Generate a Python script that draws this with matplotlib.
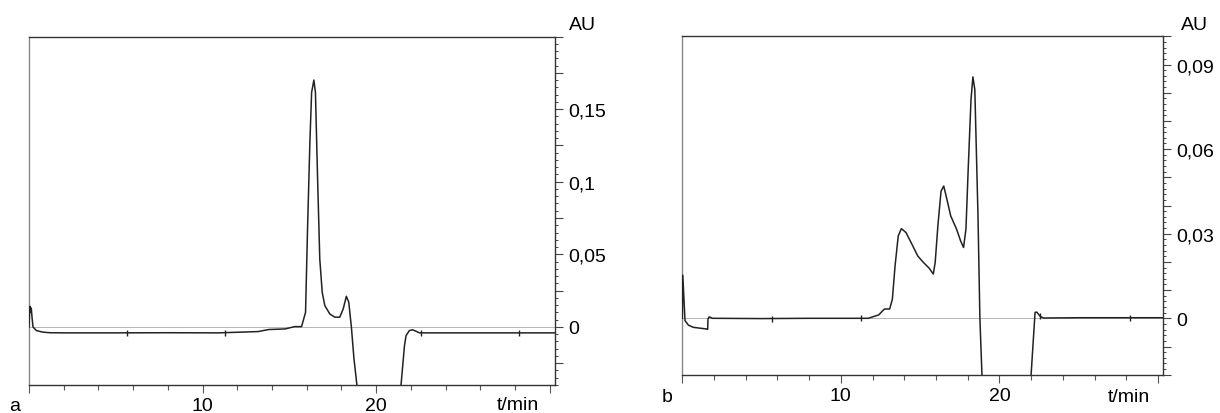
import numpy as np
import matplotlib
matplotlib.use("Agg")
import matplotlib.pyplot as plt
from matplotlib.ticker import FixedLocator, MultipleLocator

plt.rcParams["font.family"] = ["Liberation Sans", "DejaVu Sans"]
plt.rcParams["font.size"] = 14

# ── chromatogram a ──
t_a = [0.0, 0.05, 0.09, 0.13, 0.18, 0.23, 0.42, 0.8, 1.2, 2.0, 5.0, 8.0, 10.9,
       13.2, 13.8, 14.75, 15.3, 15.7, 15.93, 16.05, 16.18, 16.28, 16.41, 16.5,
       16.62, 16.75, 16.89, 17.04, 17.33, 17.62, 17.9, 18.1, 18.28, 18.42, 18.57,
       18.72, 18.88, 19.0, 21.35, 21.43, 21.63, 21.72, 21.91, 22.1, 22.3, 22.49,
       25.0, 28.0, 30.3]
A_a = [0.0, 0.0142, 0.010, 0.013, 0.006, 0.0, -0.0025, -0.0036, -0.004, -0.0041,
       -0.0041, -0.004, -0.0041, -0.0032, -0.0018, -0.0014, 0.0002, 0.0002, 0.010,
       0.0697, 0.127, 0.1615, 0.170, 0.1615, 0.104, 0.0468, 0.0239, 0.0147, 0.0089,
       0.0067, 0.0067, 0.0124, 0.0211, 0.017, 0.0, -0.022, -0.039, -0.05, -0.05,
       -0.04, -0.0128, -0.006, -0.0025, -0.002, -0.003, -0.0041, -0.0041, -0.0041,
       -0.0041]
marks_a = [5.64, 11.27, 22.6, 28.2]

# ── chromatogram b ──
t_b = [0.0, 0.03, 0.17, 0.38, 0.69, 1.12, 1.54, 1.6, 1.62, 1.7, 1.9, 5.0, 8.0,
       11.73, 12.39, 12.64, 12.76, 13.08, 13.25, 13.42, 13.62, 13.82, 14.11, 14.48,
       14.85, 15.21, 15.58, 15.83, 15.95, 16.12, 16.32, 16.49, 16.69, 16.93, 17.3,
       17.55, 17.74, 17.89, 18.04, 18.21, 18.33, 18.45, 18.65, 18.77, 18.9, 19.0,
       21.9, 22.0, 22.25, 22.36, 22.57, 22.78, 25.0, 28.0, 30.3]
A_b = [0.0, 0.0153, -0.0008, -0.0024, -0.0032, -0.0035, -0.0038, -0.0039, -0.0002,
       0.0005, 0.0, -0.0001, 0.0, 0.0, 0.0012, 0.0027, 0.0033, 0.0033, 0.0068,
       0.0186, 0.0292, 0.0318, 0.0304, 0.0263, 0.0221, 0.0198, 0.0177, 0.0157,
       0.0198, 0.0328, 0.0451, 0.0469, 0.0422, 0.0363, 0.0316, 0.0275, 0.0251,
       0.0316, 0.054, 0.0776, 0.0856, 0.0811, 0.0363, 0.0, -0.02, -0.03, -0.03,
       -0.02, 0.0021, 0.0022, 0.0007, 0.0001, 0.0002, 0.0002, 0.0002]
marks_b = [5.64, 11.29, 22.57, 28.26]

# y axis settings per panel
ylim_a = (-0.04, 0.2)
yticks_a = [0.0, 0.05, 0.1, 0.15]
ylabels_a = ["0", "0,05", "0,1", "0,15"]
ylim_b = (-0.02, 0.1)
yticks_b = [0.0, 0.03, 0.06, 0.09]
ylabels_b = ["0", "0,03", "0,06", "0,09"]


def panel(ax, t, A, marks, ylim, yticks, ylabels, mid, minor):
    ax.axhline(0, color="#b5b5b5", lw=0.7, zorder=1)
    ax.plot(t, A, color="#222222", lw=1.1, zorder=3)
    ax.plot(marks, np.interp(marks, t, A), ls="none", marker="|", ms=4.5,
            mew=1.0, color="#222222", zorder=4)
    ax.set_xlim(0, 30.3)
    ax.set_ylim(*ylim)

    # x: long ticks every 10, short every 2; only 10 and 20 labelled
    ax.xaxis.set_major_locator(FixedLocator([0, 10, 20, 30]))
    ax.set_xticklabels(["", "10", "20", ""])
    ax.xaxis.set_minor_locator(MultipleLocator(2))
    ax.tick_params(axis="x", which="major", direction="out", length=5.5,
                   width=0.8, color="#555555", pad=3)
    ax.tick_params(axis="x", which="minor", direction="out", length=3.5,
                   width=0.8, color="#555555")

    # y on the right side: medium ticks + labels, fine minor ticks
    lo, hi = ylim
    start = np.ceil(lo / mid - 1e-9) * mid
    mids = np.round(np.arange(start, hi + mid / 2, mid), 4)
    ax.yaxis.tick_right()
    ax.yaxis.set_major_locator(FixedLocator(mids))
    labs = []
    for v in mids:
        hit = [l for y, l in zip(yticks, ylabels) if abs(y - v) < 1e-6]
        labs.append(hit[0] if hit else "")
    ax.set_yticklabels(labs)
    ax.yaxis.set_minor_locator(MultipleLocator(minor))
    ax.tick_params(axis="y", which="major", direction="out", length=5.5,
                   width=0.8, color="#444444", pad=4)
    ax.tick_params(axis="y", which="minor", direction="out", length=2.5,
                   width=0.7, color="#444444")

    for s in ("top", "right", "bottom"):
        ax.spines[s].set_color("#333333")
        ax.spines[s].set_linewidth(1.0)
    ax.spines["left"].set_color("#888888")
    ax.spines["left"].set_linewidth(1.0)


fig = plt.figure(figsize=(12.2, 4.14), dpi=100)
ax_a = fig.add_axes([0.02377, 0.06763, 0.43115, 0.84179])
ax_b = fig.add_axes([0.55926, 0.09251, 0.39377, 0.81739])

panel(ax_a, t_a, A_a, marks_a, ylim_a, yticks_a, ylabels_a, 0.025, 0.005)
panel(ax_b, t_b, A_b, marks_b, ylim_b, yticks_b, ylabels_b, 0.01, 0.002)

fig.text(0.0123, 0.0193, "a", ha="center", va="center")
fig.text(0.5467, 0.0410, "b", ha="center", va="center")
fig.text(0.4242, 0.0205, "t/min", ha="center", va="center")
fig.text(0.9254, 0.0399, "t/min", ha="center", va="center")
fig.text(0.4664, 0.9396, "AU", ha="left", va="center")
fig.text(0.9678, 0.9390, "AU", ha="left", va="center")

fig.savefig("out.png", dpi=100)
plt.close(fig)
